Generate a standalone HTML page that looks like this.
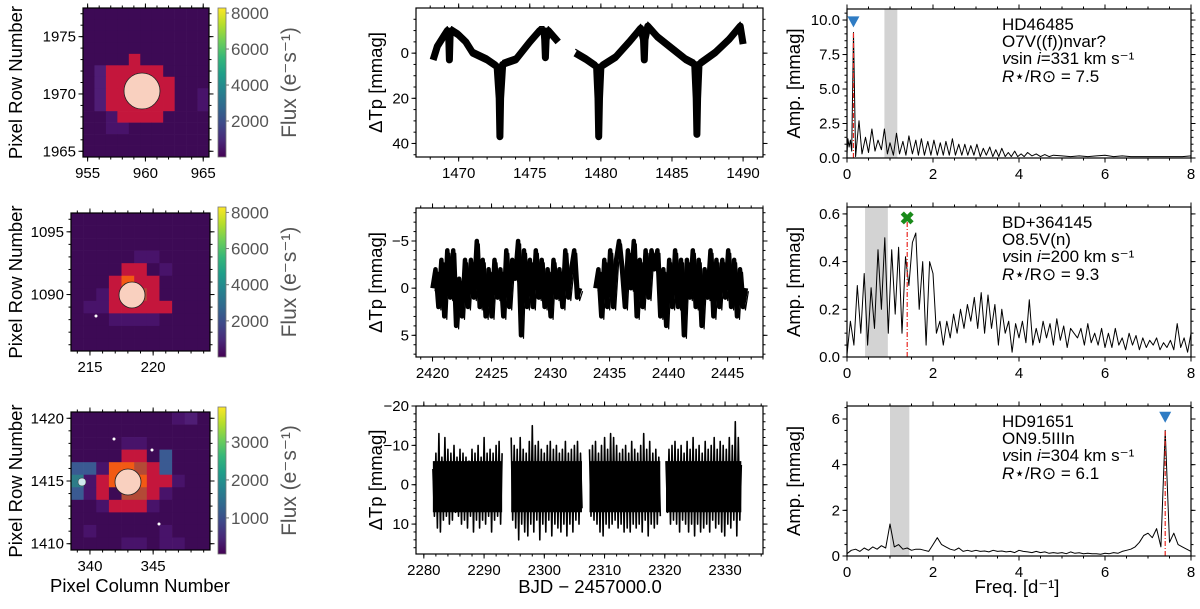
<!DOCTYPE html>
<html><head><meta charset="utf-8">
<style>
html,body{margin:0;padding:0;background:#fff;}
svg{display:block;font-family:"Liberation Sans",Arial,sans-serif;}
</style></head>
<body>
<svg id="fig" width="1200" height="609" viewBox="0 0 1200 609" xmlns="http://www.w3.org/2000/svg"></svg>
<script>
// ---------- DATA ----------
const lc1Time=[1468.2,1468.5,1469.0,1469.2,1469.3,1469.35,1469.4,1469.5,1470.0,1470.5,1471.0,1472.0,1472.7,1472.85,1472.9,1472.95,1473.1,1474.0,1475.0,1475.7,1476.0,1476.05,1476.1,1476.15,1476.3,1477.0];
const lc1Val=[3,-3,-8,-10,-8,3,-8,-10,-8,-5,0,3,6,20,37,20,5,3,-5,-10,-10,-6,2,-6,-10,-5];
const lc1bTime=[1478.2,1479.0,1479.7,1479.8,1479.85,1479.9,1480.0,1481.0,1482.0,1482.8,1483.0,1483.05,1483.1,1483.3,1484.0,1485.0,1486.0,1486.6,1486.7,1486.75,1486.8,1486.9,1488.0,1489.0,1489.8,1490.0];
const lc1bVal=[0,3,6,20,37,20,6,2,-5,-11,-6,3,-6,-12,-7,-2,3,5,20,36,20,5,0,-6,-12,-4];

const lc2aStart=2420.0, lc2bStart=2433.8, lc2Step=0.25;
const lc2aVal=[0,-2,2,-3,3,-4,1,-4,4,-1,3,-3,2,-3,1,-5,2,-3,3,-2,3,-3,1,-2,3,-4,2,-3,-1,-5,5,-4,2,-3,2,-4,1,-3,2,-2,3,-3,1,-2,2,-4,1,-2,-4,1,0];
const lc2bVal=[0,-2,3,-3,2,-4,2,-3,-5,-2,2,-4,0,-5,3,-3,2,-4,1,-4,-2,-4,3,-2,4,-3,2,-4,2,-3,5,-3,1,-4,2,-3,4,-2,1,-4,3,-3,2,-3,1,-4,2,-3,3,-2,2,0];

const lc3Starts=[2281.5,2294.5,2307.5,2320.2], lc3Step=0.25;
const lc3A=[-4,8,-8,11,-13,12,-7,9,-12,8,-9,10,-8,9,-10,7,-7,8,-9,10,-8,9,-7,11,-6,8,-9,12,-8,9,-10,11,-7,9,-12,10,-8,8,-9,12,-8,9,-10,8,-11,10,-8];
const lc3B=[-12,9,-10,11,-9,14,-12,10,-9,12,-8,13,-11,10,-15,12,-10,9,-11,14,-9,10,-8,12,-10,9,-11,13,-9,10,-10,11,-8,12,-9,10,-11,13,-8,10,-9,12,-10,9,-11,10,-8,6];
const lc3C=[-9,8,-10,9,-11,10,-8,12,-10,13,-12,10,-9,11,-13,10,-12,9,-10,11,-8,10,-9,12,-10,11,-8,12,-11,10,-9,11,-8,10,-10,12,-13,9,-9,13,-11,10,-8,11,-9,10,-7,8];
const lc3D=[-6,7,-9,10,-10,9,-11,10,-9,12,-10,9,-8,10,-11,12,-9,10,-12,13,-9,10,-10,12,-8,11,-11,10,-9,12,-10,9,-12,11,-9,10,-11,12,-10,13,-9,10,-12,11,-10,9,-16,13,-12,9,-5];

const sp1Freq=[0,0.02,0.05,0.08,0.11,0.15,0.2,0.28,0.35,0.43,0.5,0.58,0.65,0.72,0.8,0.87,0.94,1.0,1.08,1.15,1.22,1.3,1.37,1.44,1.52,1.6,1.66,1.73,1.8,1.88,1.95,2.02,2.1,2.17,2.24,2.3,2.38,2.45,2.52,2.6,2.67,2.74,2.81,2.88,2.95,3.02,3.1,3.17,3.24,3.32,3.39,3.46,3.53,3.6,3.68,3.75,3.82,3.9,3.97,4.05,4.12,4.2,4.3,4.4,4.5,4.6,4.7,4.8,5.0,5.2,5.4,5.6,5.8,6.0,6.2,6.4,6.6,6.8,7.0,7.2,7.4,7.6,7.8,8.0];
const sp1Amp=[0.3,1.4,0.8,1.3,0.5,9.1,0.1,2.7,0.3,1.5,0.4,2.1,0.5,1.3,0.6,2.1,0.3,1.1,0.2,1.8,0.3,1.2,0.2,1.6,0.3,1.3,0.2,1.4,0.2,1.2,0.2,1.3,0.2,1.1,0.2,1.2,0.2,1.4,0.2,1.0,0.2,1.0,0.2,0.9,0.2,1.0,0.1,0.7,0.2,0.8,0.1,0.6,0.1,0.7,0.1,0.4,0.1,0.5,0.1,0.3,0.1,0.4,0.15,0.3,0.1,0.25,0.1,0.2,0.15,0.1,0.15,0.1,0.15,0.2,0.1,0.15,0.1,0.1,0.1,0.1,0.1,0.1,0.1,0.15];
const sp2Step=0.08;
const sp2Amp=[0.01,0.15,0.05,0.3,0.1,0.35,0.05,0.29,0.12,0.45,0.2,0.5,0.1,0.45,0.18,0.46,0.1,0.42,0.3,0.48,0.52,0.2,0.4,0.05,0.4,0.35,
0.1,0.15,0.05,0.15,0.08,0.18,0.1,0.2,0.12,0.22,0.15,0.25,0.12,0.27,0.1,0.26,0.12,0.22,0.05,0.2,0.1,0.15,0.02,0.14,0.08,
0.15,0.06,0.24,0.05,0.12,0.06,0.15,0.08,0.14,0.05,0.16,0.07,0.13,0.04,0.12,0.1,0.08,0.12,0.05,0.14,0.06,0.1,0.05,0.12,0.04,
0.1,0.04,0.12,0.05,0.08,0.03,0.1,0.05,0.09,0.03,0.08,0.04,0.07,0.05,0.08,0.03,0.06,0.04,0.07,0.03,0.14,0.04,0.08,0.02,0.1];
const sp3Step=0.1;
const sp3Amp=[0.1,0.25,0.3,0.2,0.35,0.25,0.4,0.3,0.45,0.35,1.4,0.4,0.5,0.3,0.35,0.25,0.3,0.3,0.25,0.2,0.5,0.8,0.5,0.4,0.3,0.25,0.35,0.2,0.25,0.2,
0.25,0.2,0.22,0.18,0.25,0.2,0.22,0.18,0.2,0.15,0.25,0.2,0.18,0.15,0.2,0.15,0.18,0.12,0.15,0.12,0.15,0.1,0.18,0.12,0.14,0.1,0.12,0.1,0.1,0.08,
0.12,0.1,0.15,0.12,0.2,0.25,0.3,0.4,0.6,0.9,1.0,0.8,1.2,0.4,5.5,0.6,1.0,0.5,0.4,0.3,0.2];
const bandLo=[0.87,0.42,1.0], bandHi=[1.17,0.95,1.45];
const peakFreq=[0.15,1.4,7.4], peakAmp=[9.1,0.58,5.5], markerAmp=[9.9,0.58,6.1];
const starNames=["HD46485","BD+364145","HD91651"];
const spTypes=["O7V((f))nvar?","O8.5V(n)","ON9.5IIIn"];
const vsini=["331","200","304"];
const radii=["7.5","9.3","6.1"];

// ---------- HELPERS ----------
const NS="http://www.w3.org/2000/svg";
const svg=document.getElementById('fig');
function el(tag,attrs,parent){const e=document.createElementNS(NS,tag);for(const k in attrs)e.setAttribute(k,attrs[k]);(parent||svg).appendChild(e);return e;}
function txt(x,y,s,attrs,parent){const t=el('text',Object.assign({x:x,y:y,'font-size':15,fill:'#000'},attrs||{}),parent);t.textContent=s;return t;}
function scale(d0,d1,r0,r1){return v=>r0+(v-d0)*(r1-r0)/(d1-d0);}
function fmt(v,dec){let s=v.toFixed(dec);return s.replace('-','\u2212');}

function axes(name,x0,x1,y0,y1,xs,ys,xt,xmin,yt,ymin,xdec,ydec){
  const g=el('g',{});
  
  
  el('rect',{x:x0,y:y0,width:x1-x0,height:y1-y0,fill:'none',stroke:'#000','stroke-width':1.2},g);
  const xa=el('g',{},g);
  
  
  for(const v of xmin){const p=xs(v);if(p<x0-0.5||p>x1+0.5)continue;
    el('line',{x1:p,y1:y1,x2:p,y2:y1+2.5,stroke:'#000'},xa);el('line',{x1:p,y1:y0,x2:p,y2:y0-2.5,stroke:'#000'},xa);}
  for(const v of xt){const p=xs(v);if(p<x0-0.5||p>x1+0.5)continue;
    el('line',{x1:p,y1:y1,x2:p,y2:y1+4.5,stroke:'#000'},xa);el('line',{x1:p,y1:y0,x2:p,y2:y0-4.5,stroke:'#000'},xa);
    txt(p,y1+21,fmt(v,xdec),{'text-anchor':'middle'},xa);}
  const ya=el('g',{},g);
  
  
  for(const v of ymin){const p=ys(v);if(p<y0-0.5||p>y1+0.5)continue;
    el('line',{x1:x0,y1:p,x2:x0-2.5,y2:p,stroke:'#000'},ya);el('line',{x1:x1,y1:p,x2:x1+2.5,y2:p,stroke:'#000'},ya);}
  for(const v of yt){const p=ys(v);if(p<y0-0.5||p>y1+0.5)continue;
    el('line',{x1:x0,y1:p,x2:x0-4.5,y2:p,stroke:'#000'},ya);el('line',{x1:x1,y1:p,x2:x1+4.5,y2:p,stroke:'#000'},ya);
    txt(x0-7,p+5,fmt(v,ydec),{'text-anchor':'end'},ya);}
  return g;
}
function range(a,b,s){const r=[];for(let v=a;v<=b+1e-9;v+=s)r.push(Math.round(v*1000)/1000);return r;}

// ---------- LEFT: PIXEL IMAGES ----------
const pal={'.':'#3d0a55','p':'#48136a','q':'#4f1d75','r':'#c4163c','o':'#f25a14','b':'#b34a36','t':'#2d7c88','u':'#3a5a92'};
const grid1=["...........","...........","...........","...........","....r......",".qrrrrr....",".qrrrrrr...",".qrrrrrr..p",".qrrrrrr..p","..prrrr....","..pp.......","...........","..........."];
const grid2=["...........","...........","...........",".....pp....","....rr.p...","...rorr....","..prrbr....",".pprrrrr...","...pppp....","...........","..........."];
const grid3=["........pq.","...........","....pp.....","....rr.u...","uupoobru...","tpro.orrp..","upr.bbrp...","..prrrp....","...........",".p.....p...","....pp.pp.."];
const imgs=[
 {name:'tpf-hd46485',x0:83,x1:209,y0:8,y1:157,grid:grid1,cx:142,cy:91,r:18,
  xdom:[954.6,965.5],ydom:[1977.5,1964.5],xt:[955,960,965],yt:[1965,1970,1975],
  cb:[8,157],cbdom:[0,8280],cbt:[2000,4000,6000,8000]},
 {name:'tpf-bd364145',x0:71,x1:210,y0:213,y1:351,grid:grid2,cx:132,cy:295,r:13,
  xdom:[213.5,224.5],ydom:[1096.5,1085.5],xt:[215,220],yt:[1090,1095],
  cb:[207,357],cbdom:[0,8300],cbt:[2000,4000,6000,8000]},
 {name:'tpf-hd91651',x0:71,x1:210,y0:412,y1:550,grid:grid3,cx:128,cy:482,r:13,
  xdom:[338.5,349.5],ydom:[1420.5,1409.5],xt:[340,345],yt:[1410,1415,1420],
  cb:[407,554],cbdom:[50,3920],cbt:[1000,2000,3000]}
];
const defs=el('defs',{});
const lg=el('linearGradient',{id:'viridis',x1:0,y1:1,x2:0,y2:0},defs);
['#440154','#482878','#3e4989','#31688e','#26828e','#1f9e89','#35b779','#6ece58','#b5de2b','#fde725'].forEach((c,i)=>el('stop',{offset:(i/9),'stop-color':c},lg));

imgs.forEach((m,k)=>{
  const g=el('g',{});
  
  
  const rows=m.grid.length, cols=m.grid[0].length;
  const cw=(m.x1-m.x0)/cols, ch=(m.y1-m.y0)/rows;
  m.grid.forEach((row,i)=>{for(let j=0;j<cols;j++){
    el('rect',{x:m.x0+j*cw,y:m.y0+i*ch,width:cw+0.3,height:ch+0.3,fill:pal[row[j]]},g);}});
  const c=el('circle',{cx:m.cx,cy:m.cy,r:m.r,fill:'#f9d0bf',stroke:'#222','stroke-width':0.8},g);
  
  
  if(k===1){el('circle',{cx:96,cy:316,r:1.5,fill:'#fff'},g);}
  if(k===2){
    el('circle',{cx:82,cy:482,r:4,fill:'#cfe8ee',stroke:'#333','stroke-width':0.5},g);
    el('circle',{cx:114,cy:439,r:1.5,fill:'#fff'},g);
    el('circle',{cx:152,cy:450,r:1.5,fill:'#fff'},g);
    el('circle',{cx:159,cy:524,r:1.5,fill:'#fff'},g);
  }
  const xs=scale(m.xdom[0],m.xdom[1],m.x0,m.x1), ys=scale(m.ydom[0],m.ydom[1],m.y0,m.y1);
  axes(m.name,m.x0,m.x1,m.y0,m.y1,xs,ys,m.xt,range(Math.ceil(m.xdom[0]),m.xdom[1],1),m.yt,range(Math.ceil(m.ydom[1]),m.ydom[0],1),0,0);
  const cb=el('g',{});
  
  
  el('rect',{x:218,y:m.cb[0],width:8,height:m.cb[1]-m.cb[0],fill:'url(#viridis)',stroke:'#777','stroke-width':0.8},cb);
  const cs=scale(m.cbdom[0],m.cbdom[1],m.cb[1],m.cb[0]);
  m.cbt.forEach(v=>{const p=cs(v);el('line',{x1:226,y1:p,x2:229,y2:p,stroke:'#777'},cb);txt(231,p+6,String(v),{fill:'#555','font-size':17},cb);});
  const lab=txt(0,0,'Flux (e\u207Bs\u207B\u00B9)',{fill:'#555','font-size':21,'text-anchor':'middle',transform:'translate(296,'+((m.cb[0]+m.cb[1])/2)+') rotate(-90)'},cb);
  
  
  const yl=txt(0,0,'Pixel Row Number',{'font-size':18.5,'text-anchor':'middle',transform:'translate(22,'+((m.y0+m.y1)/2)+') rotate(-90)'});
  
  
});
const pcl=txt(140,592,'Pixel Column Number',{'font-size':18.5,'text-anchor':'middle'});



// ---------- MIDDLE: LIGHT CURVES ----------
function lcPanel(name,y0,y1,xdom,ydom,xt,xmin,yt,ymin){
  const xs=scale(xdom[0],xdom[1],416,763), ys=scale(ydom[0],ydom[1],y0,y1);
  axes(name,416,763,y0,y1,xs,ys,xt,xmin,yt,ymin,0,0);
  const yl=txt(0,0,'\u0394Tp [mmag]',{'font-size':18.5,'text-anchor':'middle',transform:'translate(382,'+((y0+y1)/2)+') rotate(-90)'});
  
  
  return [xs,ys];
}
function poly(pts,attrs,name){const p=el('polyline',Object.assign({points:pts.map(q=>q[0].toFixed(1)+','+q[1].toFixed(1)).join(' '),fill:'none',stroke:'#000','stroke-linejoin':'round'},attrs));
  return p;}

let s=lcPanel('lightcurve-hd46485',8,157,[1467.0,1491.4],[-20,46],range(1470,1490,5),range(1468,1491,1),[0,20,40],range(-15,45,5));
[[lc1Time,lc1Val],[lc1bTime,lc1bVal]].forEach(([t,v])=>{
  const pts=t.map((tt,j)=>[s[0](tt),s[1](v[j])]);
  poly(pts,{'stroke-width':7},'lightcurve-1-band');
  poly(pts,{'stroke-width':1.2,transform:'translate(0,-4)'},'lightcurve-1-upper');
});

s=lcPanel('lightcurve-bd364145',208,357,[2418.6,2448.0],[-8.5,7.3],range(2420,2445,5),range(2419,2448,1),[-5,0,5],range(-8,7,1));
[[lc2aStart,lc2aVal],[lc2bStart,lc2bVal]].forEach(([t0,v])=>{
  const pts=v.map((vv,j)=>[s[0](t0+j*lc2Step),s[1](vv)]);
  poly(pts,{'stroke-width':4.5},'lightcurve-2-band');
  poly(pts,{'stroke-width':1.2,transform:'translate(2.5,3)'},'lightcurve-2-shadow');
});

s=lcPanel('lightcurve-hd91651',406,554,[2278.7,2336.3],[-20,17.6],range(2280,2330,10),range(2280,2336,2),[-20,-10,0,10],range(-20,16,2));
[lc3A,lc3B,lc3C,lc3D].forEach((v,i)=>{
  const t0=lc3Starts[i];
  const pts=v.map((vv,j)=>[s[0](t0+j*lc3Step),s[1](vv)]);
  poly(pts,{'stroke-width':1.6},'lightcurve-3-segment');
  const xa=s[0](t0), xb=s[0](t0+(v.length-1)*lc3Step);
  const r=el('rect',{x:xa,y:s[1](-6),width:xb-xa,height:s[1](7)-s[1](-6),fill:'#000'});
  
  
});
const bjd=txt(590,593,'BJD \u2212 2457000.0',{'font-size':18.5,'text-anchor':'middle'});



// ---------- RIGHT: PERIODOGRAMS ----------
const rp=[{y0:9,y1:158,ymax:10.8,yt:[0,2.5,5,7.5,10],ymin:range(0,10.5,0.5),dec:1},
          {y0:207,y1:357,ymax:0.629,yt:[0,0.2,0.4,0.6],ymin:range(0,0.6,0.05),dec:1},
          {y0:406,y1:556,ymax:6.57,yt:[0,2,4,6],ymin:range(0,6.5,0.5),dec:0}];
rp.forEach((p,i)=>{
  const xs=scale(0,8,847,1191), ys=scale(0,p.ymax,p.y1,p.y0);
  const band=el('rect',{x:xs(bandLo[i]),y:p.y0,width:xs(bandHi[i])-xs(bandLo[i]),height:p.y1-p.y0,fill:'#d3d3d3'});
  
  
  let pts;
  if(i===0) pts=sp1Freq.map((f,j)=>[xs(f),ys(sp1Amp[j])]);
  else if(i===1) pts=sp2Amp.map((a,j)=>[xs(j*sp2Step),ys(a)]);
  else pts=sp3Amp.map((a,j)=>[xs(j*sp3Step),ys(a)]);
  poly(pts,{'stroke-width':1},'periodogram-'+(i+1));
  const ln=el('line',{x1:xs(peakFreq[i]),y1:ys(0),x2:xs(peakFreq[i]),y2:ys(peakAmp[i]),stroke:'#e8261f','stroke-width':1.2,'stroke-dasharray':'5,2,1,2'});
  
  
  const mx=xs(peakFreq[i]), my=ys(markerAmp[i]);
  let mk;
  if(i===1){mk=el('text',{x:mx,y:my+6,'font-size':18,'font-weight':'bold',fill:'#1a8a1a','text-anchor':'middle'});mk.textContent='\u2716';}
  else mk=el('polygon',{points:(mx-6)+','+(my-5)+' '+(mx+6)+','+(my-5)+' '+mx+','+(my+6),fill:'#2f7cc4'});
  
  
  axes('periodogram-'+(i+1),847,1191,p.y0,p.y1,xs,ys,[0,2,4,6,8],range(0,8,0.5),p.yt,p.ymin,0,p.dec);
  const yl=txt(0,0,'Amp. [mmag]',{'font-size':18.5,'text-anchor':'middle',transform:'translate(800,'+((p.y0+p.y1)/2)+') rotate(-90)'});
  
  
  const info=el('text',{'font-size':17,fill:'#000'});
  
  
  const ty=p.y0+21;
  const l1=el('tspan',{x:1002,y:ty},info);l1.textContent=starNames[i];
  const l2=el('tspan',{x:1002,y:ty+17},info);l2.textContent=spTypes[i];
  const l3=el('tspan',{x:1002,y:ty+34},info);
  const a=el('tspan',{'font-style':'italic'},l3);a.textContent='v';
  const b=el('tspan',{},l3);b.textContent='sin ';
  const c=el('tspan',{'font-style':'italic'},l3);c.textContent='i';
  const d=el('tspan',{},l3);d.textContent='='+vsini[i]+' km s\u207B\u00B9';
  const l4=el('tspan',{x:1002,y:ty+52},info);
  const e1=el('tspan',{'font-style':'italic'},l4);e1.textContent='R';
  const e2=el('tspan',{},l4);e2.textContent='\u22C6/R\u2299 = '+radii[i];
});
const fq=txt(1017,593,'Freq. [d\u207B\u00B9]',{'font-size':18.5,'text-anchor':'middle'});


</script>
</body></html>
